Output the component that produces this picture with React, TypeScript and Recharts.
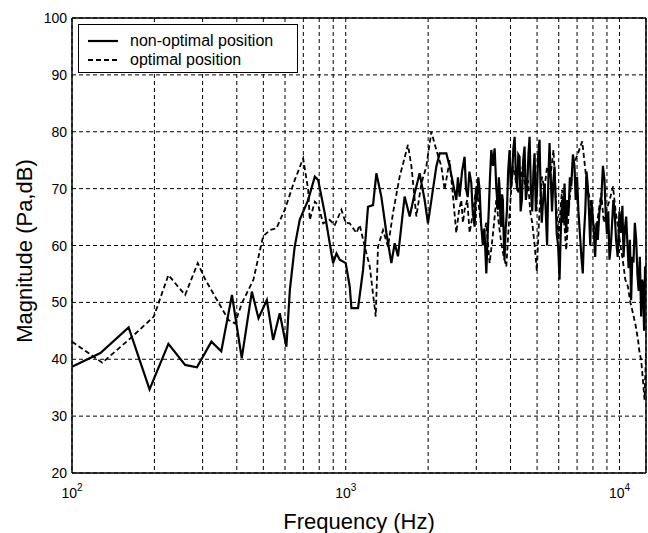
import { LineChart, Line, XAxis, YAxis, CartesianGrid, ReferenceLine } from 'recharts';

// non-optimal position (solid)
const nonOptFreq = [
  100, 127, 161, 192, 225, 259, 286, 323, 351, 384, 417, 454, 480, 515, 543, 574, 607, 625, 651, 679,
  729, 771, 793, 838, 874, 899, 925, 951, 1000, 1034, 1049, 1109, 1157, 1206, 1258, 1294, 1349, 1408, 1468, 1510,
  1552, 1641, 1713, 1786, 1862, 1942, 1997, 2143, 2203, 2331, 2397, 2535, 2570, 2606, 2660, 2718, 2750, 2790, 2830, 2875,
  2910, 2957, 2990, 3020, 3050, 3083, 3120, 3170, 3210, 3263, 3300, 3330, 3365, 3403, 3450, 3499, 3550, 3597, 3625, 3650,
  3675, 3700, 3725, 3750, 3775, 3802, 3840, 3880, 3920, 3968, 4010, 4050, 4095, 4140, 4185, 4230, 4270, 4315, 4355, 4400,
  4450, 4500, 4550, 4600, 4650, 4695, 4745, 4800, 4850, 4896, 4950, 5000, 5050, 5105, 5150, 5200, 5260, 5324, 5380, 5440,
  5500, 5553, 5610, 5670, 5730, 5791, 5845, 5900, 5970, 6040, 6100, 6170, 6230, 6299, 6340, 6390, 6450, 6520, 6590, 6663,
  6760, 6852, 6920, 7000, 7080, 7170, 7260, 7345, 7420, 7500, 7580, 7660, 7740, 7820, 7900, 7989, 8070, 8150, 8240, 8332,
  8450, 8580, 8700, 8816, 8900, 9000, 9100, 9194, 9300, 9400, 9500, 9590, 9720, 9850, 10000, 10140, 10250, 10350, 10470, 10580,
  10700, 10800, 10920, 11030, 11140, 11250, 11380, 11510, 11630, 11750, 11870, 12000, 12100, 12200, 12300, 12400,
];
const nonOptDb = [
  38.7, 41.1, 45.6, 34.7, 42.7, 39.0, 38.6, 43.1, 41.4, 51.3, 40.2, 51.9, 47.2, 50.4, 43.4, 48.1, 42.2, 52.2, 59.8, 64.5,
  68.0, 72.1, 71.5, 65.7, 60.4, 56.9, 58.6, 57.5, 56.9, 52.8, 49.0, 49.0, 55.7, 66.8, 67.1, 72.7, 68.6, 62.2, 56.9, 60.4,
  58.1, 68.6, 65.1, 69.2, 72.7, 68.0, 63.9, 73.9, 76.2, 76.2, 73.9, 68.0, 72.0, 68.6, 73.0, 75.6, 70.0, 68.5, 73.0, 71.0,
  66.0, 63.3, 70.0, 68.0, 72.0, 69.8, 64.0, 60.0, 63.0, 55.1, 62.0, 66.0, 72.0, 76.8, 74.0, 77.1, 70.0, 66.3, 72.0, 70.0,
  64.0, 63.3, 69.0, 68.0, 62.0, 57.5, 63.0, 66.0, 73.0, 76.8, 70.0, 72.0, 77.0, 79.1, 72.0, 70.0, 76.0, 75.6, 66.0, 68.0,
  75.0, 77.4, 68.0, 70.0, 76.0, 79.1, 70.0, 66.0, 73.0, 76.2, 66.0, 70.0, 76.0, 78.6, 70.0, 64.0, 68.0, 70.9, 66.0, 60.0,
  72.0, 78.0, 72.0, 66.0, 71.0, 73.9, 68.0, 62.0, 60.0, 54.0, 62.0, 68.0, 64.0, 70.9, 66.0, 62.2, 68.0, 66.0, 72.0, 70.4,
  76.0, 73.9, 68.0, 72.1, 66.0, 62.0, 58.0, 55.1, 62.0, 66.0, 73.0, 70.4, 66.0, 60.0, 68.0, 65.1, 62.0, 58.0, 64.0, 61.0,
  66.0, 68.0, 74.0, 71.5, 66.0, 62.0, 66.0, 57.5, 60.0, 64.0, 68.0, 66.3, 61.0, 58.0, 66.0, 62.2, 67.0, 58.0, 63.0, 65.1,
  60.0, 56.0, 61.0, 50.4, 58.0, 57.0, 64.0, 61.0, 55.0, 52.0, 58.0, 47.5, 54.0, 53.0, 45.0, 56.3,
];

// optimal position (dashed)
const optFreq = [
  100, 129, 161, 199, 225, 259, 288, 307, 373, 394, 417, 460, 499, 528, 558, 599, 651, 699, 729, 739,
  771, 793, 827, 874, 912, 964, 1000, 1034, 1094, 1125, 1173, 1224, 1287, 1312, 1368, 1427, 1488, 1574, 1688, 1738,
  1811, 1889, 1970, 2055, 2143, 2235, 2297, 2397, 2535, 2590, 2643, 2680, 2718, 2780, 2835, 2920, 3000, 3080, 3170, 3260,
  3355, 3450, 3548, 3620, 3700, 3780, 3860, 3970, 4080, 4160, 4250, 4340, 4430, 4530, 4630, 4720, 4800, 4900, 4990, 5100,
  5210, 5320, 5440, 5590, 5740, 5860, 5990, 6080, 6170, 6280, 6390, 6570, 6760, 7030, 7310, 7400, 7480, 7640, 7810, 8000,
  8200, 8390, 8580, 8770, 8960, 9210, 9470, 9680, 9880, 10080, 10280, 10500, 10730, 10960, 11200, 11450, 11690, 11850, 12000, 12200,
  12340, 12500,
];
const optDb = [
  43.1, 39.4, 43.4, 47.5, 54.8, 51.3, 56.9, 54.0, 46.9, 46.3, 49.8, 54.0, 61.6, 62.7, 63.0, 66.3, 71.5, 75.3, 69.8, 64.5,
  67.7, 67.1, 63.9, 64.5, 63.6, 66.3, 64.0, 63.9, 62.2, 63.6, 59.8, 56.3, 47.5, 59.8, 62.7, 59.8, 65.7, 72.1, 77.7, 73.9,
  65.1, 70.9, 73.9, 80.0, 76.8, 73.9, 69.8, 75.0, 62.2, 66.0, 68.0, 64.0, 66.3, 68.0, 62.2, 66.0, 70.4, 66.0, 61.0, 64.0,
  56.9, 62.0, 68.0, 64.0, 60.4, 58.0, 56.3, 66.0, 73.9, 72.0, 69.2, 71.0, 73.9, 70.0, 71.5, 66.0, 64.0, 60.0, 55.5, 66.0,
  72.1, 70.0, 73.9, 72.0, 76.8, 68.0, 61.0, 66.0, 69.8, 64.0, 59.2, 68.0, 73.9, 76.0, 78.3, 76.0, 73.9, 70.0, 68.0, 64.0,
  62.2, 66.0, 69.2, 64.0, 66.3, 68.0, 70.4, 66.0, 63.3, 60.0, 57.5, 54.0, 52.8, 50.0, 48.1, 46.0, 43.4, 41.0, 39.9, 36.0,
  32.9, 41.1,
];

const yTicks = [20, 30, 40, 50, 60, 70, 80, 90, 100];
const xTicks = [100, 200, 300, 400, 500, 600, 700, 800, 900, 1000, 2000, 3000, 4000, 5000, 6000, 7000, 8000, 9000, 10000];
const decadeExp: Record<number, string> = { 100: '2', 1000: '3', 10000: '4' };

const nonOptData = nonOptFreq.map((f, i) => ({ f, db: nonOptDb[i] }));
const optData = optFreq.map((f, i) => ({ f, db: optDb[i] }));

const FONT = '"Liberation Sans", Arial, Helvetica, sans-serif';

const XTick = ({ x, payload }: any) => {
  const exp = decadeExp[payload.value];
  if (!exp) return null;
  return (
    <text x={x} y={473 + 25} textAnchor="middle" fontSize={14} fontFamily={FONT} fill="#000">
      10<tspan dy={-7} fontSize={10}>{exp}</tspan>
    </text>
  );
};

const YTick = ({ y, payload }: any) => (
  <text x={67} y={y + 5} textAnchor="end" fontSize={14} fontFamily={FONT} fill="#000">
    {payload.value}
  </text>
);

export default function App() {
  return (
    <div style={{ position: 'absolute', left: 0, top: 0, width: 648, height: 533, background: '#fff' }}>
      <LineChart width={648} height={533} margin={{ top: 18, right: 2, left: 0, bottom: 0 }}>
        <CartesianGrid stroke="#000" strokeDasharray="4 3" strokeWidth={1} />
        <XAxis
          dataKey="f"
          type="number"
          scale="log"
          domain={[100, 12500]}
          allowDataOverflow
          ticks={xTicks}
          interval={0}
          height={60}
          tick={<XTick />}
          tickLine={false}
          axisLine={{ stroke: '#000', strokeWidth: 1.5 }}
          label={{
            content: () => (
              <text x={359} y={529} textAnchor="middle" fontSize={22} fontFamily={FONT} fill="#000">
                Frequency (Hz)
              </text>
            ),
          }}
        />
        <YAxis
          type="number"
          domain={[20, 100]}
          ticks={yTicks}
          interval={0}
          width={72}
          tick={<YTick />}
          tickLine={false}
          axisLine={{ stroke: '#000', strokeWidth: 1.5 }}
          label={{
            content: () => (
              <text
                x={32}
                y={251}
                textAnchor="middle"
                fontSize={22}
                fontFamily={FONT}
                fill="#000"
                transform="rotate(-90 32 251)"
              >
                Magnitude (Pa,dB)
              </text>
            ),
          }}
        />
        <ReferenceLine y={100} stroke="#000" strokeWidth={1.5} />
        <ReferenceLine x={12500} stroke="#000" strokeWidth={1.5} />
        <Line
          data={optData}
          dataKey="db"
          type="linear"
          stroke="#000"
          strokeWidth={1.8}
          strokeDasharray="5 3"
          dot={false}
          isAnimationActive={false}
        />
        <Line
          data={nonOptData}
          dataKey="db"
          type="linear"
          stroke="#000"
          strokeWidth={2.2}
          dot={false}
          isAnimationActive={false}
        />
      </LineChart>
      <div
        style={{
          position: 'absolute',
          left: 78,
          top: 24,
          width: 218,
          height: 47,
          border: '1px solid #000',
          background: '#fff',
          fontFamily: FONT,
          fontSize: 16,
          color: '#000',
        }}
      >
        <svg width={40} height={47} style={{ position: 'absolute', left: 0, top: 0 }}>
          <line x1={9} y1={16} x2={39} y2={16} stroke="#000" strokeWidth={2.2} />
          <line x1={9} y1={35} x2={39} y2={35} stroke="#000" strokeWidth={1.8} strokeDasharray="5 3" />
        </svg>
        <div style={{ position: 'absolute', left: 51, top: 6, whiteSpace: 'nowrap', lineHeight: '19px' }}>
          non-optimal position
          <br />
          optimal position
        </div>
      </div>
    </div>
  );
}
